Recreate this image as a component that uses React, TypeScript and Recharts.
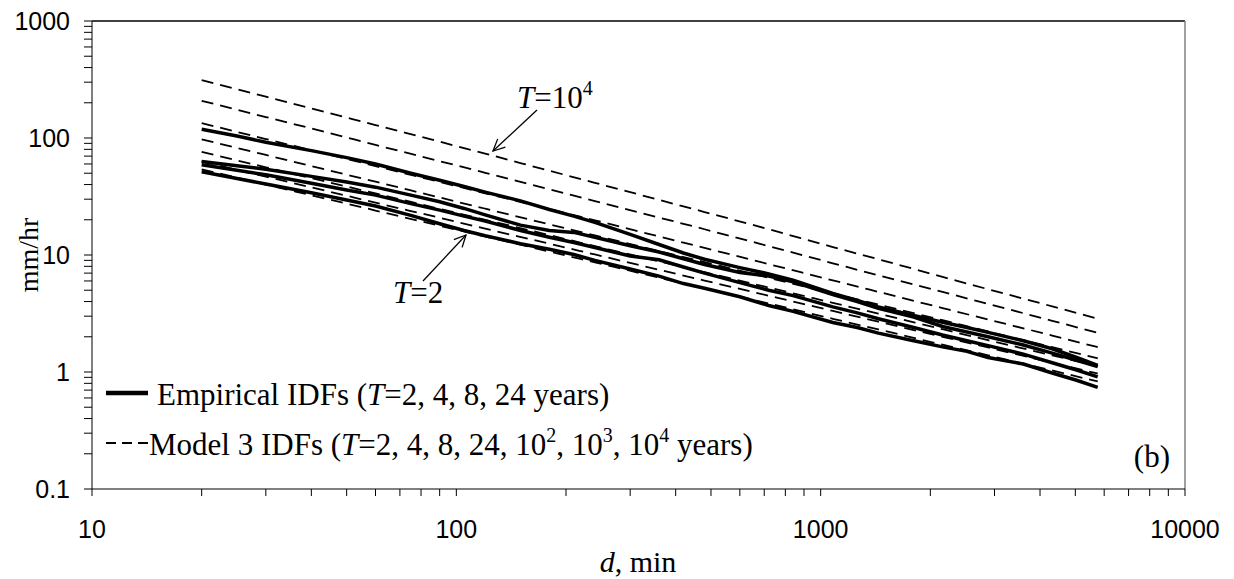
import { LineChart, Line, XAxis, YAxis, ReferenceLine } from "recharts";

// duration (min) grid for the fitted model curves
const dModel = [20, 30, 45, 60, 90, 120, 180, 240, 360, 480, 720, 1080, 1440, 2160, 2880, 4320, 5760];
const modelT2 = [54, 40.0, 29.7, 24.0, 17.8, 14.4, 10.7, 8.65, 6.41, 5.19, 3.85, 2.85, 2.31, 1.71, 1.39, 1.03, 0.83];
const modelT4 = [63, 46.7, 34.7, 28.0, 20.8, 16.8, 12.5, 10.1, 7.48, 6.05, 4.49, 3.33, 2.69, 2.0, 1.62, 1.2, 0.97];
const modelT8 = [76, 56.2, 41.6, 33.6, 24.8, 20.0, 14.8, 11.9, 8.83, 7.13, 5.27, 3.9, 3.15, 2.32, 1.87, 1.39, 1.12];
const modelT24 = [97.5, 71.6, 52.6, 42.3, 31.0, 24.9, 18.3, 14.7, 10.8, 8.7, 6.38, 4.69, 3.77, 2.77, 2.22, 1.63, 1.31];
const modelT100 = [134, 98, 71.8, 57.5, 42.1, 33.7, 24.7, 19.8, 14.4, 11.5, 8.36, 6.07, 4.84, 3.52, 2.81, 2.05, 1.63];
const modelT1000 = [208, 151, 110, 87.3, 63.4, 50.4, 36.4, 28.9, 20.9, 16.6, 11.9, 8.5, 6.7, 4.83, 3.82, 2.74, 2.16];
const modelT10000 = [313, 226, 163, 129, 93, 73.5, 52.5, 41.4, 29.6, 23.3, 16.6, 11.7, 9.2, 6.5, 5.1, 3.64, 2.85];

// duration grid for the empirical curves
const dEmp = [20, 25, 30, 40, 50, 60, 75, 90, 105, 120, 150, 180, 210, 240, 300, 360, 420, 480, 600, 720, 840, 1080, 1260, 1440, 1800, 2160, 2520, 2880, 3600, 4320, 5040, 5760];
const empT2 = [51.5, 45, 40.5, 34, 29.5, 26.2, 21.8, 18.5, 16.2, 14.6, 12.5, 11.2, 10.1, 9.0, 7.6, 6.6, 5.7, 5.2, 4.4, 3.7, 3.3, 2.65, 2.4, 2.15, 1.85, 1.64, 1.5, 1.33, 1.17, 0.98, 0.85, 0.74];
const empT4 = [59, 53, 48.5, 41, 36, 32.5, 27.5, 24.2, 21.5, 19.5, 16.2, 14.2, 12.8, 11.6, 9.8, 9.1, 7.9, 7.0, 5.8, 5.0, 4.5, 3.6, 3.2, 2.85, 2.4, 2.07, 1.85, 1.68, 1.42, 1.2, 1.04, 0.91];
const empT8 = [63, 58, 54, 47, 42, 38, 32.5, 28.5, 25, 22, 18, 16.2, 15.6, 14.2, 12, 10.6, 9.3, 8.3, 7.1, 6.6, 5.9, 4.6, 4.0, 3.5, 2.95, 2.45, 2.2, 2.0, 1.7, 1.45, 1.26, 1.11];
const empT24 = [119, 104, 92, 78, 68, 60, 50, 43.5, 38.5, 34.5, 29, 24.5, 21.5, 19, 15, 12.3, 10.4, 9.2, 7.8, 6.9, 6.1, 4.7, 4.1, 3.6, 3.05, 2.66, 2.4, 2.18, 1.85, 1.58, 1.33, 1.14];

const xMajor = [10, 100, 1000, 10000];
const xTicks = [10, 20, 30, 40, 50, 60, 70, 80, 90, 100, 200, 300, 400, 500, 600, 700, 800, 900, 1000, 2000, 3000, 4000, 5000, 6000, 7000, 8000, 9000, 10000];
const yMajor = [0.1, 1, 10, 100, 1000];
const yTicks = [0.1, 0.2, 0.3, 0.4, 0.5, 0.6, 0.7, 0.8, 0.9, 1, 2, 3, 4, 5, 6, 7, 8, 9, 10, 20, 30, 40, 50, 60, 70, 80, 90, 100, 200, 300, 400, 500, 600, 700, 800, 900, 1000];

const modelData = dModel.map((d, i) => ({
  d,
  m2: modelT2[i],
  m4: modelT4[i],
  m8: modelT8[i],
  m24: modelT24[i],
  m100: modelT100[i],
  m1000: modelT1000[i],
  m10000: modelT10000[i],
}));

const empData = dEmp.map((d, i) => ({
  d,
  e2: empT2[i],
  e4: empT4[i],
  e8: empT8[i],
  e24: empT24[i],
}));

const SANS = "'Liberation Sans', Arial, sans-serif";
const SERIF = "'Liberation Serif', 'Times New Roman', serif";

function XTick({ x, y, payload }: any) {
  if (!xMajor.includes(payload.value)) return <g />;
  return (
    <text x={x} y={y + 42} textAnchor="middle" fontFamily={SANS} fontSize={25} fill="#000">
      {payload.value}
    </text>
  );
}

function YTick({ x, y, payload }: any) {
  if (!yMajor.includes(payload.value)) return <g />;
  return (
    <text x={x} y={y + 9} textAnchor="end" fontFamily={SANS} fontSize={25} fill="#000">
      {payload.value}
    </text>
  );
}

function Arrow({ x1, y1, x2, y2 }: { x1: number; y1: number; x2: number; y2: number }) {
  const ang = Math.atan2(y2 - y1, x2 - x1);
  const len = 13;
  const spread = 0.45;
  const ax = x2 - len * Math.cos(ang - spread);
  const ay = y2 - len * Math.sin(ang - spread);
  const bx = x2 - len * Math.cos(ang + spread);
  const by = y2 - len * Math.sin(ang + spread);
  return (
    <g stroke="#000" strokeWidth={1.3} fill="none">
      <line x1={x1} y1={y1} x2={x2} y2={y2} />
      <polyline points={`${ax},${ay} ${x2},${y2} ${bx},${by}`} />
    </g>
  );
}

const modelKeys = ["m2", "m4", "m8", "m24", "m100", "m1000", "m10000"];
const empKeys = ["e2", "e4", "e8", "e24"];

export default function App() {
  return (
    <div style={{ position: "absolute", left: 0, top: 0, width: 1234, height: 579, background: "#fff" }}>
      <LineChart width={1234} height={579} margin={{ top: 21, right: 49, bottom: 0, left: 0 }}>
        <XAxis
          dataKey="d"
          type="number"
          scale="log"
          domain={[10, 10000]}
          allowDataOverflow
          ticks={xTicks}
          interval={0}
          tick={<XTick />}
          tickSize={7}
          tickMargin={0}
          height={90}
          stroke="#000"
          tickLine={{ stroke: "#000" }}
          label={{
            content: () => (
              <text x={638} y={572} textAnchor="middle" fontFamily={SERIF} fontSize={30} fill="#000">
                <tspan fontStyle="italic">d</tspan>, min
              </text>
            ),
          }}
        />
        <YAxis
          type="number"
          scale="log"
          domain={[0.1, 1000]}
          allowDataOverflow
          ticks={yTicks}
          interval={0}
          tick={<YTick />}
          tickSize={8}
          tickMargin={14}
          width={92}
          stroke="#000"
          tickLine={{ stroke: "#000" }}
          label={{
            content: () => (
              <text
                x={0}
                y={0}
                transform="translate(38,255) rotate(-90)"
                textAnchor="middle"
                fontFamily={SERIF}
                fontSize={28}
                fill="#000"
              >
                mm/hr
              </text>
            ),
          }}
        />
        <ReferenceLine y={1000} stroke="#000" strokeWidth={1.5} />
        <ReferenceLine x={10000} stroke="#808080" strokeWidth={1.5} />
        {modelKeys.map((k) => (
          <Line
            key={k}
            data={modelData}
            dataKey={k}
            type="monotone"
            stroke="#000"
            strokeWidth={1.8}
            strokeDasharray="12 7"
            dot={false}
            activeDot={false}
            isAnimationActive={false}
          />
        ))}
        {empKeys.map((k) => (
          <Line
            key={k}
            data={empData}
            dataKey={k}
            type="linear"
            stroke="#000"
            strokeWidth={3.5}
            dot={false}
            activeDot={false}
            isAnimationActive={false}
          />
        ))}
      </LineChart>
      <svg
        width={1234}
        height={579}
        style={{ position: "absolute", left: 0, top: 0, pointerEvents: "none" }}
      >
        <g fontFamily={SERIF} fontSize={31} fill="#000">
          <text x={517} y={108}>
            <tspan fontStyle="italic">T</tspan>=10
            <tspan fontSize={20} dy={-13}>4</tspan>
          </text>
          <text x={393} y={303}>
            <tspan fontStyle="italic">T</tspan>=2
          </text>
          <text x={1170} y={467} textAnchor="end">(b)</text>

          <line x1={106} y1={393} x2={148} y2={393} stroke="#000" strokeWidth={4.5} />
          <text x={157} y={405}>
            Empirical IDFs (<tspan fontStyle="italic">T</tspan>=2, 4, 8, 24 years)
          </text>
          <line x1={106} y1={443} x2={148} y2={443} stroke="#000" strokeWidth={1.8} strokeDasharray="10 6" />
          <text x={149} y={455}>
            Model 3 IDFs (<tspan fontStyle="italic">T</tspan>=2, 4, 8, 24, 10
            <tspan fontSize={20} dy={-13}>2</tspan>
            <tspan dy={13}>, 10</tspan>
            <tspan fontSize={20} dy={-13}>3</tspan>
            <tspan dy={13}>, 10</tspan>
            <tspan fontSize={20} dy={-13}>4</tspan>
            <tspan dy={13}> years)</tspan>
          </text>
        </g>
        <Arrow x1={537} y1={110} x2={493} y2={151} />
        <Arrow x1={423} y1={281} x2={466} y2={235} />
      </svg>
    </div>
  );
}
